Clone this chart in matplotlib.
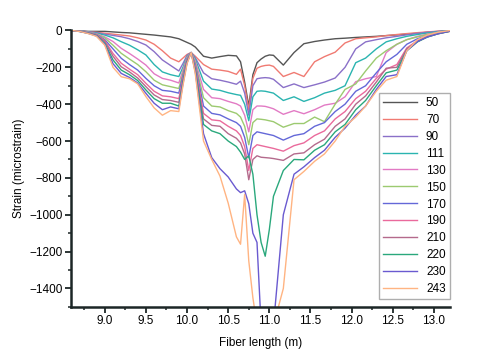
import matplotlib
matplotlib.use('Agg')
import matplotlib.pyplot as plt
from matplotlib.ticker import MultipleLocator

plt.rcParams['font.family'] = ['Liberation Sans', 'DejaVu Sans']

# fiber position (m)
fiber_x = [8.60, 8.70, 8.80, 8.90, 9.00, 9.10, 9.20, 9.30, 9.40, 9.50, 9.60, 9.70, 9.80, 9.90, 9.95,
           10.00, 10.05, 10.10, 10.20, 10.30, 10.40, 10.50, 10.60, 10.65, 10.70, 10.75, 10.80, 10.85,
           10.90, 10.95, 11.00, 11.05, 11.17, 11.30, 11.42, 11.55, 11.67, 11.80, 11.92, 12.05, 12.17,
           12.30, 12.42, 12.55, 12.67, 12.80, 12.92, 13.05, 13.20]

labels = ['50', '70', '90', '111', '130', '150', '170', '190', '210', '220', '230', '243']
colors = ['#555555', '#f07a72', '#8a70c8', '#2ab4b0', '#e27ac4', '#9cca70', '#6468d8',
          '#ea6a9c', '#b46a8c', '#2aa87c', '#6a5ad0', '#ffb482']

s50 = [0, -2, -5, -5, -5, -8, -11, -13, -17, -21, -25, -30, -35, -45, -55,
       -65, -75, -90, -140, -150, -142, -135, -138, -170, -280, -410, -240, -175,
       -155, -140, -133, -135, -188, -120, -72, -60, -52, -45, -42, -38, -35,
       -32, -28, -24, -20, -15, -10, -6, -2]
s70 = [0, -3, -8, -10, -15, -20, -25, -30, -40, -52, -75, -110, -150, -170, -150,
       -130, -120, -140, -185, -210, -215, -222, -238, -210, -300, -430, -260, -205,
       -195, -190, -188, -195, -250, -228, -250, -170, -142, -118, -68, -45, -40,
       -35, -28, -22, -17, -12, -8, -4, 0]
s90 = [0, -3, -8, -12, -20, -27, -34, -45, -60, -79, -115, -160, -190, -220, -180,
       -135, -120, -148, -230, -262, -270, -280, -292, -275, -340, -460, -300, -262,
       -258, -256, -258, -265, -310, -290, -310, -295, -280, -258, -200, -100, -62,
       -50, -40, -32, -24, -16, -10, -5, 0]
s111 = [0, -3, -9, -15, -25, -40, -61, -80, -105, -133, -185, -225, -240, -250, -200,
        -140, -120, -155, -275, -318, -325, -338, -348, -352, -400, -490, -360, -330,
        -328, -330, -335, -340, -380, -360, -385, -365, -340, -325, -300, -175, -150,
        -100, -62, -45, -32, -22, -14, -7, 0]
s130 = [0, -4, -10, -18, -35, -60, -97, -125, -155, -188, -235, -260, -270, -285, -215,
        -145, -120, -165, -320, -365, -370, -385, -398, -410, -460, -550, -430, -410,
        -410, -412, -418, -425, -455, -435, -452, -430, -405, -395, -360, -278, -262,
        -250, -120, -75, -50, -32, -20, -10, -2]
s150 = [0, -4, -11, -20, -40, -80, -124, -155, -185, -224, -270, -295, -305, -315, -230,
        -150, -120, -175, -365, -410, -415, -435, -450, -470, -520, -620, -500, -480,
        -482, -485, -490, -495, -525, -505, -505, -470, -495, -400, -320, -290, -220,
        -150, -110, -75, -50, -35, -22, -12, -3]
s170 = [0, -5, -12, -22, -50, -100, -151, -185, -215, -260, -300, -325, -330, -340, -245,
        -155, -120, -185, -410, -450, -458, -480, -500, -520, -580, -690, -570, -550,
        -555, -560, -565, -570, -595, -570, -560, -520, -500, -440, -400, -330, -300,
        -230, -170, -130, -75, -45, -28, -14, -3]
s190 = [0, -5, -13, -24, -55, -125, -178, -210, -240, -287, -330, -355, -360, -370, -260,
        -160, -120, -195, -450, -485, -490, -520, -545, -570, -630, -760, -640, -620,
        -625, -630, -635, -640, -655, -625, -610, -570, -545, -480, -440, -370, -330,
        -260, -210, -185, -95, -55, -32, -16, -4]
s210 = [0, -5, -14, -26, -60, -140, -197, -225, -258, -305, -350, -375, -380, -390, -270,
        -165, -120, -205, -480, -515, -520, -560, -585, -610, -670, -810, -700, -680,
        -688, -690, -692, -695, -705, -670, -664, -620, -590, -520, -480, -400, -355,
        -280, -205, -200, -100, -60, -35, -18, -4]
s220 = [0, -6, -15, -28, -70, -160, -215, -240, -272, -323, -370, -395, -395, -410, -280,
        -170, -120, -215, -510, -545, -560, -600, -630, -660, -700, -680, -780, -1000,
        -1150, -1225, -1080, -900, -760, -700, -702, -650, -620, -550, -510, -430, -380,
        -300, -230, -215, -110, -62, -36, -18, -4]
s230 = [0, -6, -16, -30, -75, -180, -233, -255, -285, -341, -395, -430, -415, -425, -290,
        -175, -120, -225, -560, -690, -750, -795, -860, -880, -870, -940, -1100, -1150,
        -1600, -1600, -1600, -1600, -1000, -780, -740, -690, -650, -580, -530, -460, -410,
        -320, -250, -240, -110, -60, -35, -18, -3]
s243 = [0, -6, -17, -32, -80, -200, -251, -262, -290, -359, -420, -460, -435, -440, -300,
        -180, -120, -235, -600, -700, -790, -937, -1120, -1160, -890, -1250, -1450, -1600,
        -1600, -1600, -1600, -1600, -1400, -810, -765, -710, -670, -600, -520, -470, -410,
        -330, -270, -250, -110, -50, -25, -10, 0]

series = [s50, s70, s90, s111, s130, s150, s170, s190, s210, s220, s230, s243]

fig = plt.figure(figsize=(4.95, 3.54), dpi=100)
ax = fig.add_axes([0.143, 0.133, 0.766, 0.781])

for vals, lab, col in zip(series, labels, colors):
    ax.plot(fiber_x, vals, color=col, lw=1.0, label=lab)

ax.set_xlim(8.587, 13.195)
ax.set_ylim(-1500, 0)
ax.xaxis.set_minor_locator(MultipleLocator(0.25))
ax.yaxis.set_minor_locator(MultipleLocator(100))
ax.set_xticks([9.0, 9.5, 10.0, 10.5, 11.0, 11.5, 12.0, 12.5, 13.0])
ax.set_xticklabels(['9.0', '9.5', '10.0', '10.5', '11.0', '11.5', '12.0', '12.5', '13.0'])
ax.set_yticks([0, -200, -400, -600, -800, -1000, -1200, -1400])
ax.set_yticklabels(['0', '\u2212200', '\u2212400', '\u2212600', '\u2212800',
                    '\u22121000', '\u22121200', '\u22121400'])

for side in ['top', 'right']:
    ax.spines[side].set_visible(False)
for side in ['left', 'bottom']:
    ax.spines[side].set_linewidth(1.8)
    ax.spines[side].set_color('#1c2626')
ax.tick_params(which='major', length=4, width=1.3, color='#1c2626', labelsize=8.5, pad=2)
ax.tick_params(which='minor', length=2.5, width=1.1, color='#1c2626')

ax.set_xlabel('Fiber length (m)', fontsize=8.5, labelpad=7)
ax.set_ylabel('Strain (microstrain)', fontsize=8.5, labelpad=3)

leg = ax.legend(loc='upper right', bbox_to_anchor=(1.0, 0.775), borderaxespad=0,
                fontsize=8.5, frameon=True, fancybox=False, handlelength=2.8,
                labelspacing=0.42, borderpad=0.35, handletextpad=0.8)
leg.get_frame().set_edgecolor('#9a9a9a')
leg.get_frame().set_linewidth(1.0)

fig.savefig('out.png', dpi=100)
